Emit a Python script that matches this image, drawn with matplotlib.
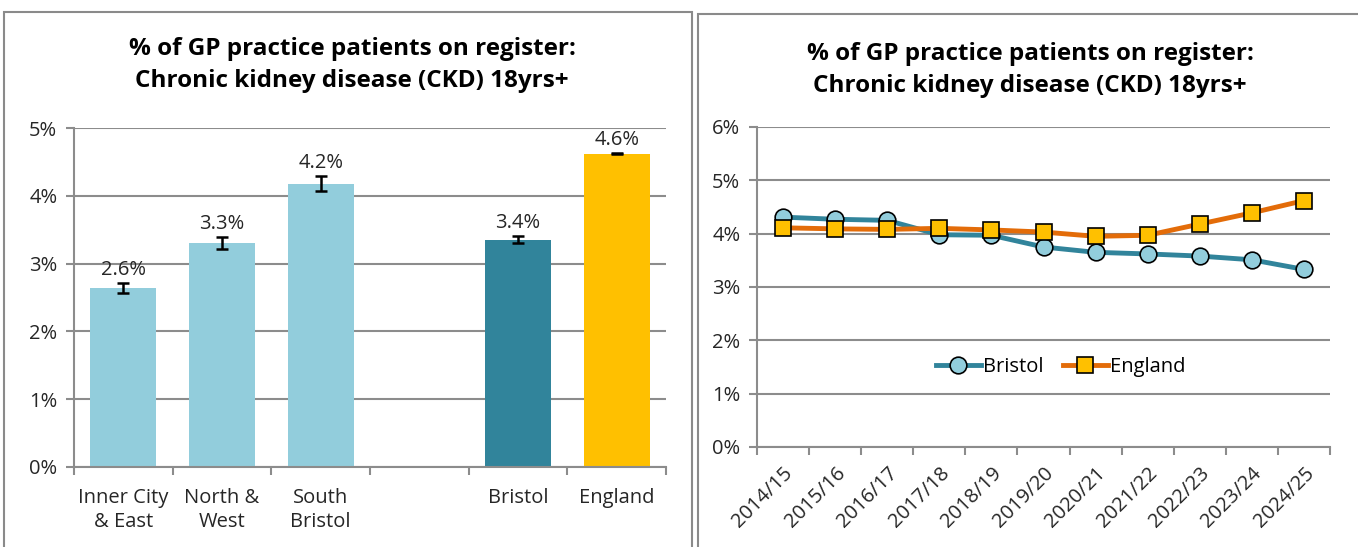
import numpy as np
import matplotlib.pyplot as plt
from matplotlib.patches import Rectangle
from matplotlib.ticker import FuncFormatter

# ---- data ----
areas = ["Inner City\n& East", "North &\nWest", "South\nBristol", "", "Bristol", "England"]
area_values = [2.64, 3.30, 4.18, np.nan, 3.355, 4.62]
area_errors = [0.07, 0.09, 0.11, np.nan, 0.055, 0.01]
area_labels = ["2.6%", "3.3%", "4.2%", "", "3.4%", "4.6%"]

years = ["2014/15", "2015/16", "2016/17", "2017/18", "2018/19", "2019/20",
         "2020/21", "2021/22", "2022/23", "2023/24", "2024/25"]
bristol = [4.31, 4.27, 4.25, 3.98, 3.97, 3.75, 3.65, 3.62, 3.58, 3.51, 3.33]
england = [4.11, 4.09, 4.08, 4.10, 4.07, 4.03, 3.95, 3.97, 4.18, 4.39, 4.62]

title = "% of GP practice patients on register:\nChronic kidney disease (CKD) 18yrs+"

# ---- style ----
plt.rcParams['font.family'] = ['Open Sans', 'DejaVu Sans']
GRID = "#8c8c8c"
LIGHT = "#92CDDC"
TEAL = "#31849B"
GOLD = "#FFC000"
ORANGE = "#E36C09"
TXT = "#262626"
FS = 14.5
TFS = 17.5
pct = FuncFormatter(lambda v, p: f"{v:.0f}%")

fig = plt.figure(figsize=(13.58, 5.47), dpi=100)

# panel frames
fig.patches.append(Rectangle((4 / 1358, -0.05), 688 / 1358, 1.05 - 12 / 547,
                             transform=fig.transFigure, fill=False,
                             edgecolor="#8a8a8a", lw=1.5))
fig.patches.append(Rectangle((698 / 1358, -0.05), 670 / 1358, 1.05 - 14 / 547,
                             transform=fig.transFigure, fill=False,
                             edgecolor="#8a8a8a", lw=1.5))


def style_axes(ax):
    for s in ["top", "right"]:
        ax.spines[s].set_visible(False)
    for s in ["left", "bottom"]:
        ax.spines[s].set_color(GRID)
        ax.spines[s].set_linewidth(1.5)
    ax.yaxis.grid(True, color=GRID, lw=1.5)
    ax.set_axisbelow(True)
    ax.yaxis.set_major_formatter(pct)
    ax.tick_params(axis="y", colors=GRID, labelcolor=TXT, labelsize=FS,
                   length=6, width=1.5, pad=6)
    ax.tick_params(axis="x", which="both", colors=GRID, labelcolor=TXT,
                   labelsize=FS, width=1.5)


# ---- left: bar chart ----
ax1 = fig.add_axes([74 / 1358, 1 - 467 / 547, 592 / 1358, 339 / 547])
x = np.arange(len(areas))
colors = [LIGHT, LIGHT, LIGHT, LIGHT, TEAL, GOLD]
ax1.bar(x, area_values, width=0.67, color=colors, zorder=2)
ax1.errorbar(x, area_values, yerr=area_errors, fmt="none", ecolor="black",
             elinewidth=1.8, capsize=4, capthick=1.8, zorder=3)
for xi, v, e, lab in zip(x, area_values, area_errors, area_labels):
    if lab:
        ax1.annotate(lab, (xi, v + e), xytext=(0, 2), textcoords="offset points",
                     ha="center", va="bottom", fontsize=FS, color=TXT)
ax1.set_xlim(-0.5, len(areas) - 0.5)
ax1.set_ylim(0, 5)
ax1.set_yticks(range(0, 6))
style_axes(ax1)
ax1.set_xticks(x)
ax1.set_xticklabels(areas, linespacing=1.3)
ax1.tick_params(axis="x", which="major", length=0, pad=15)
ax1.set_xticks(np.arange(-0.5, len(areas)), minor=True)
ax1.tick_params(axis="x", which="minor", length=6)
fig.text(352 / 1358, 1 - 65 / 547, title, ha="center", va="center",
         fontsize=TFS, fontweight="bold", linespacing=1.4)

# ---- right: line chart ----
ax2 = fig.add_axes([757 / 1358, 1 - 447 / 547, 573 / 1358, 320 / 547])
xs = np.arange(len(years))
ax2.plot(xs, bristol, color=TEAL, lw=3.5, marker="o", markersize=12,
         markerfacecolor=LIGHT, markeredgecolor="black", markeredgewidth=1.2,
         label="Bristol", zorder=3)
ax2.plot(xs, england, color=ORANGE, lw=3.5, marker="s", markersize=12,
         markerfacecolor=GOLD, markeredgecolor="black", markeredgewidth=1.2,
         label="England", zorder=4)
ax2.set_xlim(-0.5, len(years) - 0.5)
ax2.set_ylim(0, 6)
ax2.set_yticks(range(0, 7))
style_axes(ax2)
ax2.set_xticks(xs)
ax2.set_xticklabels(years, rotation=45, ha="right", rotation_mode="anchor")
ax2.tick_params(axis="x", which="major", length=0, pad=12)
ax2.set_xticks(np.arange(-0.5, len(years)), minor=True)
ax2.tick_params(axis="x", which="minor", length=6)
ax2.legend(loc="center", bbox_to_anchor=(0.53, 0.25), ncol=2, frameon=False,
           fontsize=FS, handlelength=2.2, handletextpad=0.1, columnspacing=1.0)
fig.text(1030 / 1358, 1 - 70 / 547, title, ha="center", va="center",
         fontsize=TFS, fontweight="bold", linespacing=1.4)

fig.savefig("out.png", dpi=100)
